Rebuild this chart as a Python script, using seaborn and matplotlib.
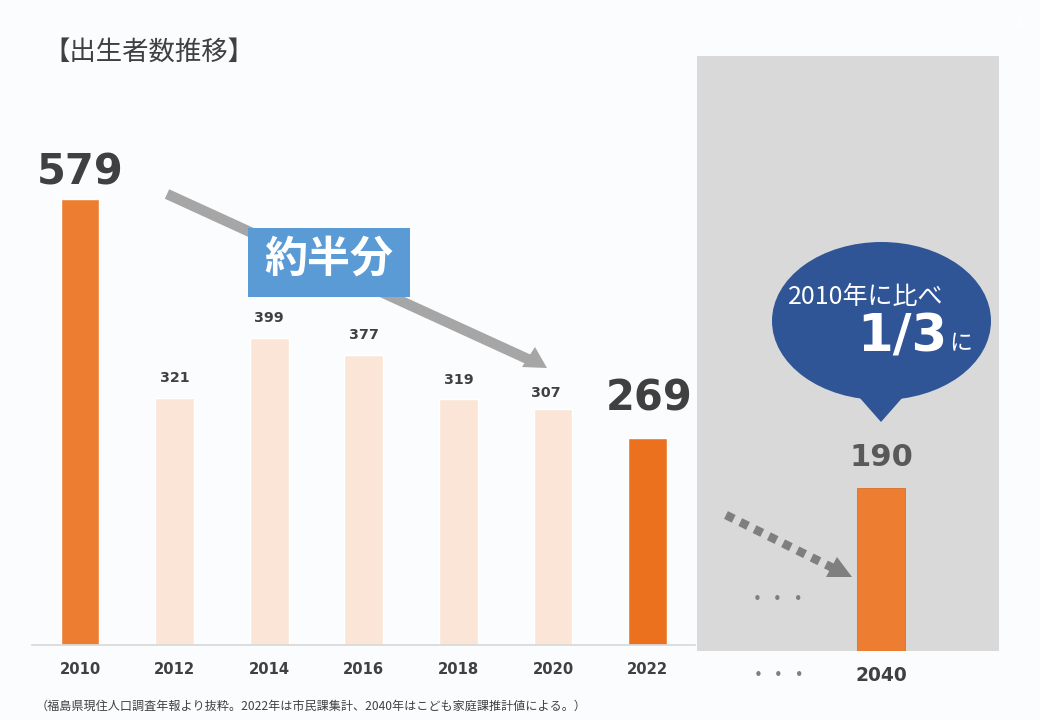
import matplotlib
matplotlib.use("Agg")
import matplotlib.pyplot as plt
import pandas as pd
import seaborn as sns
from matplotlib.patches import Ellipse, Polygon, Rectangle

# ---------------------------------------------------------------------------
# Data
# ---------------------------------------------------------------------------
years = ["2010", "2012", "2014", "2016", "2018", "2020", "2022"]
births = [579, 321, 399, 377, 319, 307, 269]
bar_colors = ["#ED7D31", "#FBE5D6", "#FBE5D6", "#FBE5D6", "#FBE5D6", "#FBE5D6", "#EB711F"]
label_sizes = [30, 10.3, 10.3, 10.3, 10.3, 10.3, 30]
label_pads = [4, 9, 9, 9, 9, 6, 13]
label_shifts = [0, 0, 0, 0, 0, -5, 1]

future_years = ["2040"]
future_births = [190]

BG = "#FBFCFE"
DARK = "#404040"

sns.set_theme(style="white")
plt.rcParams["font.family"] = ["DejaVu Sans", "Noto Sans CJK JP"]
JP = ["Noto Sans CJK JP", "DejaVu Sans"]

W, H = 1040, 720
fig = plt.figure(figsize=(W / 100, H / 100), dpi=100, facecolor=BG)


def px_axes(left, top, right, bottom):
    # axes placed by pixel box (origin top-left)
    return fig.add_axes([left / W, 1 - bottom / H, (right - left) / W, (bottom - top) / H])


# ---------------------------------------------------------------------------
# Observed births
# ---------------------------------------------------------------------------
ax = px_axes(32, 60, 695, 645)
df = pd.DataFrame({"year": years, "births": births})
sns.barplot(data=df, x="year", y="births", hue="year", palette=bar_colors, dodge=False,
            saturation=1, width=0.41, legend=False, ax=ax)
ax.set_xlim(-0.508, 6.5)
ax.set_ylim(0, 585 / 0.77)
ax.set_facecolor("none")
ax.set_xlabel("")
ax.set_ylabel("")
ax.set_yticks([])
sns.despine(ax=ax, left=True)
ax.spines["bottom"].set_color("#D9D9D9")
ax.tick_params(axis="x", length=0, pad=12, labelsize=10.6, labelcolor=DARK)
for lab in ax.get_xticklabels():
    lab.set_fontweight("bold")
for container, size, pad, shift in zip(ax.containers, label_sizes, label_pads, label_shifts):
    for ann in ax.bar_label(container, fontsize=size, fontweight="bold", color=DARK, padding=pad):
        ann.xyann = (shift, pad)

# ---------------------------------------------------------------------------
# Projection panel
# ---------------------------------------------------------------------------
ax2 = px_axes(697, 56, 999, 651)
df2 = pd.DataFrame({"year": future_years, "births": future_births})
sns.barplot(data=df2, x="year", y="births", color="#ED7D31", saturation=1, width=0.5,
            edgecolor="#D9712B", linewidth=0.6, ax=ax2)
ax2.set_xlim(-1.917, 1.229)
ax2.set_ylim(0, 595 / 0.858)
ax2.set_facecolor("#D9D9D9")
ax2.set_xlabel("")
ax2.set_ylabel("")
ax2.set_yticks([])
sns.despine(ax=ax2, left=True, bottom=True)
ax2.tick_params(axis="x", length=0, pad=11, labelsize=13.4, labelcolor=DARK)
for lab in ax2.get_xticklabels():
    lab.set_fontweight("bold")
ax2.bar_label(ax2.containers[0], fontsize=22, fontweight="bold", color="#595959", padding=11.5)

# ---------------------------------------------------------------------------
# Annotations, in pixel coordinates
# ---------------------------------------------------------------------------
top = fig.add_axes([0, 0, 1, 1], facecolor="none")
top.set_xlim(0, W)
top.set_ylim(H, 0)
top.axis("off")

top.text(43, 52, "【出生者数推移】", family=JP, fontsize=19, color=DARK, va="center", ha="left")
top.text(1019, 22, "1", fontsize=10, color="#FFFFFF", va="center", ha="center")

# falling trend arrow
top.plot([167, 532], [194, 361], color="#A6A6A6", lw=7.5, solid_capstyle="butt", zorder=2)
top.add_patch(Polygon([(547, 368), (522, 367), (535, 347)], color="#A6A6A6", lw=0, zorder=2))
top.add_patch(Rectangle((248, 228), 162, 69, color="#5B9BD5", lw=0, zorder=3))
top.text(329, 259, "約半分", family=JP, fontsize=31, fontweight="bold", color="white",
         ha="center", va="center", zorder=4)

# dotted arrow to 2040
top.plot([726, 835], [515, 569], color="#7F7F7F", lw=6.2, linestyle=(0, (1, 0.85)),
         dash_capstyle="butt", zorder=2)
top.add_patch(Polygon([(852, 577), (826, 577), (837, 557)], color="#7F7F7F", lw=0, zorder=2))
top.text(778, 600, "・・・", family=JP, fontsize=15, color="#7F7F7F", ha="center", va="center")
top.text(779, 676, "・・・", family=JP, fontsize=15, color="#7F7F7F", ha="center", va="center")

# speech bubble
top.add_patch(Ellipse((881.5, 321), 219, 158, color="#2F5597", lw=0, zorder=2))
top.add_patch(Polygon([(859, 397), (903, 397), (881, 422)], color="#2F5597", lw=0, zorder=2))
top.text(788, 297, "2010年に比べ", family=JP, fontsize=18, color="white", ha="left", va="center", zorder=3)
top.text(857, 338, "1/3", fontsize=37, fontweight="bold", color="white", ha="left", va="center", zorder=3)
top.text(949, 344, "に", family=JP, fontsize=16.5, color="white", ha="left", va="center", zorder=3)

top.text(36, 706, "（福島県現住人口調査年報より抜粋。2022年は市民課集計、2040年はこども家庭課推計値による。）",
         family=JP, fontsize=8.7, color=DARK, ha="left", va="center")

fig.savefig("out.png", dpi=100, facecolor=BG)
